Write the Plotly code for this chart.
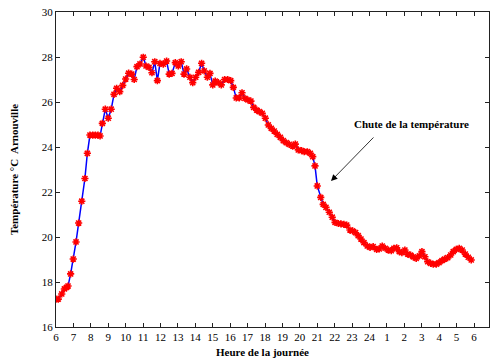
import plotly.graph_objects as go

# Logged air temperature at Arnouville over one day (hours after midnight of day 1; >24 = next morning)
hours = [
    6.00, 6.13, 6.33, 6.48, 6.61, 6.69, 6.84, 6.99, 7.15, 7.30, 7.48, 7.66, 7.80, 7.95,
    8.11, 8.26, 8.41, 8.53, 8.66, 8.83, 9.00, 9.17, 9.33, 9.48, 9.66, 9.83, 10.00, 10.17,
    10.35, 10.49, 10.65, 10.82, 11.01, 11.17, 11.34, 11.51, 11.67, 11.82,
    11.97, 12.16, 12.35, 12.50, 12.66, 12.85, 13.02, 13.19, 13.35, 13.50, 13.69, 13.85,
    14.02, 14.19, 14.36, 14.51, 14.69, 14.84, 15.00, 15.14, 15.32, 15.49, 15.68, 15.86,
    16.03, 16.18, 16.35, 16.52, 16.68, 16.85, 17.02, 17.19, 17.35, 17.52, 17.67, 17.84,
    18.02, 18.19, 18.36, 18.53, 18.70, 18.88, 19.05, 19.22, 19.39, 19.59, 19.74, 19.91,
    20.10, 20.25, 20.43, 20.60, 20.74, 20.87,
    21.00, 21.20, 21.34, 21.50, 21.69, 21.86, 22.02, 22.21, 22.36, 22.53, 22.69, 22.88,
    23.03, 23.20, 23.35, 23.51, 23.68, 23.87, 24.03, 24.21, 24.41, 24.56, 24.73, 24.90,
    25.08, 25.25, 25.40, 25.56, 25.71, 25.86, 26.03, 26.19, 26.36, 26.51, 26.68, 26.86,
    27.01, 27.18, 27.34, 27.51, 27.66, 27.83, 27.99, 28.16, 28.31, 28.49, 28.66, 28.81,
    28.98, 29.15, 29.32, 29.50, 29.67, 29.84,
]

temperature = [
    17.24, 17.24, 17.47, 17.69, 17.76, 17.82, 18.36, 19.02, 19.78, 20.62, 21.59, 22.60, 23.72, 24.53,
    24.53, 24.53, 24.53, 24.49, 25.05, 25.68, 25.28, 25.68, 26.34, 26.61, 26.46, 26.74, 27.02, 27.28,
    27.24, 27.00, 27.57, 27.69, 27.99, 27.60, 27.54, 27.30, 27.79, 26.95,
    27.72, 27.68, 27.82, 27.24, 27.27, 27.75, 27.60, 27.79, 27.24, 27.47, 27.10, 26.86,
    27.10, 27.32, 27.72, 27.38, 27.10, 27.27, 26.76, 26.93, 26.86, 26.76, 27.00, 27.00,
    26.95, 26.65, 26.18, 26.18, 26.41, 26.16, 26.09, 26.04, 25.76, 25.64, 25.57, 25.50,
    25.28, 24.98, 24.83, 24.71, 24.56, 24.43, 24.28, 24.19, 24.12, 24.04, 24.13, 23.87,
    23.84, 23.79, 23.79, 23.72, 23.57, 23.16,
    22.27, 21.76, 21.45, 21.32, 21.10, 20.88, 20.65, 20.60, 20.58, 20.56, 20.53, 20.31,
    20.27, 20.19, 20.06, 19.91, 19.75, 19.60, 19.54, 19.57, 19.45, 19.47, 19.60, 19.50,
    19.42, 19.39, 19.50, 19.52, 19.35, 19.30, 19.42, 19.24, 19.19, 19.12, 19.05, 19.16,
    19.35, 19.12, 18.90, 18.83, 18.79, 18.79, 18.86, 18.95, 19.02, 19.08, 19.20, 19.35,
    19.45, 19.50, 19.42, 19.24, 19.10, 18.98,
]

tick_hours = list(range(6, 31))
tick_labels = [str(h if h <= 24 else h - 24) for h in tick_hours]
y_ticks = [16, 18, 20, 22, 24, 26, 28, 30]

annotation_text = "Chute de la température"
annotation_pos = (26.42, 25.01)
arrow_tip = (21.79, 22.49)
arrow_tail = (24.31, 24.49)

serif = "Liberation Serif, Times New Roman, serif"

fig = go.Figure()
fig.add_trace(go.Scatter(
    x=hours, y=temperature, mode="lines+markers",
    line=dict(color="#0000ff", width=1.5),
    marker=dict(symbol="asterisk-open", size=6, color="#ff0000",
                line=dict(color="#ff0000", width=1.6)),
    showlegend=False,
))

fig.add_annotation(
    x=arrow_tip[0], y=arrow_tip[1], ax=arrow_tail[0], ay=arrow_tail[1],
    xref="x", yref="y", axref="x", ayref="y", text="",
    showarrow=True, arrowhead=2, arrowsize=1.6, arrowwidth=0.8, arrowcolor="black",
)
fig.add_annotation(
    x=annotation_pos[0], y=annotation_pos[1], xref="x", yref="y",
    text="<b>" + annotation_text + "</b>", showarrow=False,
    font=dict(family=serif, size=11, color="black"),
)

axis_common = dict(
    showline=True, linecolor="#222222", linewidth=1, mirror="ticks",
    ticks="inside", ticklen=4, tickcolor="#222222", showgrid=False, zeroline=False,
    tickfont=dict(family=serif, size=11, color="black"),
)

fig.update_xaxes(range=[6, 30.86], tickvals=tick_hours, ticktext=tick_labels, **axis_common)
fig.update_yaxes(range=[16, 30], tickvals=y_ticks, **axis_common)

# x-axis title, placed just under the tick labels
fig.add_annotation(
    x=(262 - 56) / (490 - 56 - 1), y=-(352 - 327) / (362 - 12 - 35),
    xref="paper", yref="paper", xanchor="center", yanchor="middle",
    text="<b>Heure de la journée</b>", showarrow=False,
    font=dict(family=serif, size=11, color="black"),
)

fig.update_layout(
    width=490, height=362,
    margin=dict(l=56, r=1, t=12, b=35),
    paper_bgcolor="white", plot_bgcolor="white",
    yaxis_title=dict(text="<b>Température °C  Arnouville</b>",
                     font=dict(family=serif, size=11, color="black"), standoff=20),
)

fig.write_html("out.html")
